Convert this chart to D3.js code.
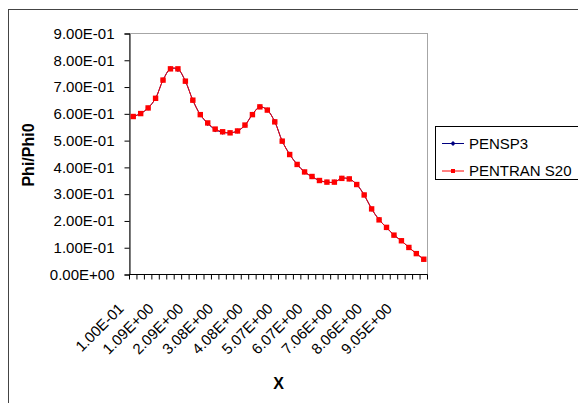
<!DOCTYPE html>
<html>
<head>
<meta charset="utf-8">
<script src="https://cdn.jsdelivr.net/npm/d3@7"></script>
<style>
  body { margin: 0; background: #fff; }
  svg { display: block; font-family: 'Liberation Sans', Arial, sans-serif; }
</style>
</head>
<body>
<div id="chart"></div>
<script>
// x categories (cell positions) as printed by the sheet
const categories = [
  0.100, 0.349, 0.597, 0.846, 1.095, 1.343, 1.592, 1.841, 2.089, 2.338,
  2.587, 2.835, 3.084, 3.333, 3.582, 3.830, 4.079, 4.328, 4.576, 4.825,
  5.074, 5.322, 5.571, 5.820, 6.068, 6.317, 6.566, 6.814, 7.063, 7.312,
  7.560, 7.809, 8.058, 8.306, 8.555, 8.804, 9.052, 9.301, 9.550, 9.798
];

const pensp3 = [
  0.590, 0.601, 0.622, 0.658, 0.726, 0.768, 0.766, 0.722, 0.651, 0.597,
  0.564, 0.541, 0.531, 0.529, 0.536, 0.557, 0.598, 0.626, 0.614, 0.571,
  0.498, 0.449, 0.411, 0.383, 0.365, 0.351, 0.345, 0.345, 0.359, 0.357,
  0.336, 0.297, 0.245, 0.205, 0.175, 0.147, 0.126, 0.101, 0.078, 0.057
];

const pentranS20 = [
  0.590, 0.601, 0.622, 0.658, 0.726, 0.768, 0.768, 0.722, 0.651, 0.597,
  0.566, 0.543, 0.533, 0.529, 0.536, 0.558, 0.597, 0.626, 0.614, 0.570,
  0.498, 0.448, 0.411, 0.383, 0.366, 0.351, 0.345, 0.345, 0.359, 0.357,
  0.336, 0.297, 0.245, 0.204, 0.176, 0.147, 0.126, 0.101, 0.078, 0.057
];

const yTicks = [0, 0.1, 0.2, 0.3, 0.4, 0.5, 0.6, 0.7, 0.8, 0.9];
const yTickLabels = ['0.00E+00', '1.00E-01', '2.00E-01', '3.00E-01', '4.00E-01',
  '5.00E-01', '6.00E-01', '7.00E-01', '8.00E-01', '9.00E-01'];
const xLabelEvery = 4;
const xTickLabels = ['1.00E-01', '1.09E+00', '2.09E+00', '3.08E+00', '4.08E+00',
  '5.07E+00', '6.07E+00', '7.06E+00', '8.06E+00', '9.05E+00'];

const seriesNames = ['PENSP3', 'PENTRAN S20'];

const W = 578, H = 403;
const plot = { left: 129.5, top: 33.5, right: 427.5, bottom: 274.5 };

const svg = d3.select('#chart').append('svg')
  .attr('width', W)
  .attr('height', H);

// outer chart frame (only left/top edges fall inside the picture)
svg.append('rect')
  .attr('x', 8.5).attr('y', 9.5)
  .attr('width', 700).attr('height', 500)
  .style('fill', '#fff')
  .style('stroke', '#444')
  .style('stroke-width', 1);

const xScale = d3.scaleBand()
  .domain(d3.range(categories.length))
  .range([plot.left, plot.right])
  .padding(0);

const yScale = d3.scaleLinear()
  .domain([0, 0.9])
  .range([plot.bottom, plot.top]);

// plot area border
svg.append('rect')
  .attr('x', plot.left).attr('y', plot.top)
  .attr('width', plot.right - plot.left)
  .attr('height', plot.bottom - plot.top)
  .style('fill', 'none')
  .style('stroke', '#a6a6a6')
  .style('stroke-width', 1);

// y axis
const yAxisG = svg.append('g')
  .attr('transform', `translate(${plot.left},0)`)
  .call(d3.axisLeft(yScale)
    .tickValues(yTicks)
    .tickSize(5)
    .tickPadding(10)
    .tickFormat((d, i) => yTickLabels[i]));

yAxisG.select('.domain').style('stroke', '#000');
yAxisG.selectAll('line').style('stroke', '#000');
yAxisG.selectAll('text')
  .style('font-family', "'Liberation Sans', Arial, sans-serif")
  .style('font-size', '15px')
  .style('fill', '#000');

// x axis: ticks at category boundaries
const xAxisG = svg.append('g');
xAxisG.append('line')
  .attr('x1', plot.left).attr('x2', plot.right)
  .attr('y1', plot.bottom).attr('y2', plot.bottom)
  .style('stroke', '#000');

const bounds = d3.range(categories.length + 1)
  .map(i => i < categories.length ? xScale(i) : xScale(i - 1) + xScale.bandwidth());

xAxisG.selectAll('.xtick')
  .data(bounds)
  .enter().append('line')
  .classed('xtick', true)
  .attr('x1', d => d).attr('x2', d => d)
  .attr('y1', plot.bottom).attr('y2', plot.bottom + 5)
  .style('stroke', '#000');

const labelIdx = d3.range(0, categories.length, xLabelEvery);
xAxisG.selectAll('.xlabel')
  .data(labelIdx)
  .enter().append('text')
  .classed('xlabel', true)
  .attr('transform', i => `translate(${xScale(i) + xScale.bandwidth() / 2 - 16},302) rotate(-45)`)
  .attr('text-anchor', 'end')
  .attr('dy', '0.71em')
  .style('font-size', '15px')
  .text((i, k) => xTickLabels[k]);

// axis titles
svg.append('text')
  .attr('x', (plot.left + plot.right) / 2)
  .attr('y', 389)
  .attr('text-anchor', 'middle')
  .style('font-size', '16px')
  .style('font-weight', 'bold')
  .text('X');

svg.append('text')
  .attr('transform', `translate(34,155) rotate(-90)`)
  .attr('text-anchor', 'middle')
  .style('font-size', '16px')
  .style('font-weight', 'bold')
  .text('Phi/Phi0');

// series
const line = d3.line()
  .x((d, i) => xScale(i) + xScale.bandwidth() / 2)
  .y(d => yScale(d))
  .curve(d3.curveCatmullRom.alpha(0.5));

const cx = i => xScale(i) + xScale.bandwidth() / 2;

svg.append('path')
  .datum(pensp3)
  .attr('d', line)
  .style('fill', 'none')
  .style('stroke', '#000080')
  .style('stroke-width', 1);

svg.append('g').selectAll('path')
  .data(pensp3)
  .enter().append('path')
  .attr('transform', (d, i) => `translate(${cx(i)},${yScale(d)})`)
  .attr('d', 'M0,-2.5L2.5,0L0,2.5L-2.5,0Z')
  .style('fill', '#000080');

svg.append('path')
  .datum(pentranS20)
  .attr('d', line)
  .style('fill', 'none')
  .style('stroke', '#ff0000')
  .style('stroke-width', 1);

svg.append('g').selectAll('rect')
  .data(pentranS20)
  .enter().append('rect')
  .attr('x', (d, i) => cx(i) - 2.7)
  .attr('y', d => yScale(d) - 2.7)
  .attr('width', 5.4)
  .attr('height', 5.4)
  .style('fill', '#ff0000');

// legend
const legend = svg.append('g');
legend.append('rect')
  .attr('x', 435.5).attr('y', 126.5)
  .attr('width', 160).attr('height', 53)
  .style('fill', '#fff')
  .style('stroke', '#000');

const rows = [
  { name: seriesNames[0], color: '#000080', y: 143.5, marker: 'diamond' },
  { name: seriesNames[1], color: '#ff0000', y: 171, marker: 'square' }
];

rows.forEach(r => {
  legend.append('line')
    .attr('x1', 442).attr('x2', 464)
    .attr('y1', r.y).attr('y2', r.y)
    .style('stroke', r.color);
  if (r.marker === 'diamond') {
    legend.append('path')
      .attr('transform', `translate(453,${r.y})`)
      .attr('d', 'M0,-2.5L2.5,0L0,2.5L-2.5,0Z')
      .style('fill', r.color);
  } else {
    legend.append('rect')
      .attr('x', 451).attr('y', r.y - 2)
      .attr('width', 4).attr('height', 4)
      .style('fill', r.color);
  }
  legend.append('text')
    .attr('x', 469)
    .attr('y', r.y)
    .attr('dy', '0.35em')
    .style('font-size', '15px')
    .text(r.name);
});
</script>
</body>
</html>
